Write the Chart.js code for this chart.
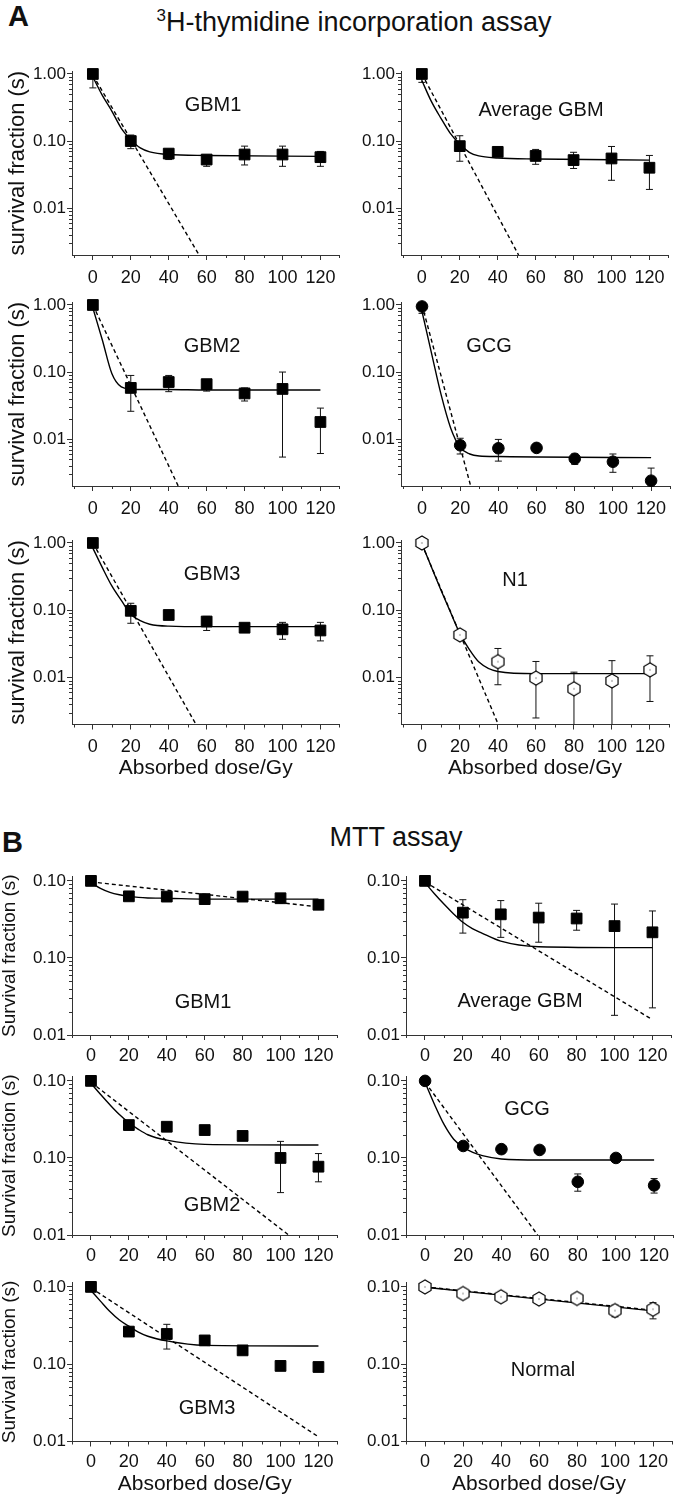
<!DOCTYPE html>
<html>
<head>
<meta charset="utf-8">
<script src="https://cdn.jsdelivr.net/npm/chart.js@4.4.1/dist/chart.umd.min.js"></script>
<style>
  body { margin: 0; background: #fff; width: 676px; height: 1495px; position: relative; overflow: hidden;
         font-family: "Liberation Sans", Arial, sans-serif; color: #111; }
  canvas { position: absolute; }
  .t { position: absolute; white-space: nowrap; transform: translate(-50%, -50%); }
</style>
</head>
<body>
<div class="t" style="left:8px;top:16px;font-weight:bold;font-size:29px;transform:translate(0,-50%)">A</div>
<div class="t" style="left:354px;top:22px;font-size:27px"><span style="font-size:17px;vertical-align:10px">3</span>H-thymidine incorporation assay</div>
<div class="t" style="left:2px;top:842px;font-weight:bold;font-size:29px;transform:translate(0,-50%)">B</div>
<div class="t" style="left:396px;top:837px;font-size:27px">MTT assay</div>

<script>
// doses (Gy) and axis ticks
const doses = [0, 20, 40, 60, 80, 100, 120];
const fitDose = [0, 5, 10, 15, 20, 25, 30, 40, 60, 120];
const doseTicks = [0, 20, 40, 60, 80, 100, 120];
const tickValues = [1, 0.1, 0.01];
const tickLabelsA = ['1.00', '0.10', '0.01'];
const tickLabelsB = ['0.10', '0.10', '0.01'];

// A: 3H-thymidine incorporation
const aGbm1Sf = [1.0, 0.10, 0.065, 0.053, 0.063, 0.063, 0.0575];
const aGbm1Lo = [0.62, 0.077, 0.053, 0.042, 0.044, 0.042, 0.042];
const aGbm1Hi = [null, 0.123, 0.075, null, 0.084, 0.084, 0.07];
const aGbm1Fit = [0.9, 0.48, 0.28, 0.155, 0.105, 0.079, 0.069, 0.063, 0.061, 0.059];
const aGbm1DashX = [0, 56], aGbm1DashY = [0.96, 0.002];

const aAvgSf = [1.0, 0.084, 0.069, 0.06, 0.052, 0.055, 0.04];
const aAvgLo = [0.75, 0.05, 0.063, 0.045, 0.039, 0.026, 0.019];
const aAvgHi = [null, 0.12, 0.08, 0.075, 0.068, 0.083, 0.061];
const aAvgFit = [0.8, 0.39, 0.22, 0.13, 0.09, 0.068, 0.06, 0.056, 0.054, 0.052];
const aAvgDashX = [0, 51], aAvgDashY = [1.0, 0.002];

const aGbm2Sf = [1.0, 0.058, 0.071, 0.066, 0.048, 0.056, 0.018];
const aGbm2Lo = [null, 0.026, 0.051, 0.052, 0.037, 0.0054, 0.0061];
const aGbm2Hi = [null, 0.089, 0.089, 0.073, 0.058, 0.1, 0.029];
const aGbm2Fit = [0.9, 0.3, 0.095, 0.06, 0.056, 0.055, 0.055, 0.055, 0.054, 0.054];
const aGbm2DashX = [0, 45], aGbm2DashY = [1.0, 0.002];

const aGcgSf = [0.95, 0.0081, 0.0073, 0.0074, 0.0051, 0.0046, 0.0024];
const aGcgLo = [0.75, 0.006, 0.0047, null, 0.0042, 0.0032, 0.002];
const aGcgHi = [null, 0.0103, 0.0099, null, 0.006, 0.006, 0.0037];
const aGcgFit = [0.8, 0.19, 0.046, 0.0147, 0.0075, 0.006, 0.0056, 0.0055, 0.0054, 0.0053];
const aGcgDashX = [0, 25.5], aGcgDashY = [1.0, 0.002];

const aGbm3Sf = [1.0, 0.098, 0.085, 0.068, 0.055, 0.052, 0.05];
const aGbm3Lo = [null, 0.064, null, 0.05, null, 0.037, 0.035];
const aGbm3Hi = [null, 0.127, null, 0.081, null, 0.066, 0.066];
const aGbm3Fit = [0.84, 0.43, 0.23, 0.14, 0.087, 0.07, 0.062, 0.058, 0.057, 0.057];
const aGbm3DashX = [0, 54.4], aGbm3DashY = [1.0, 0.002];

const aN1Sf = [1.0, 0.043, 0.0172, 0.0098, 0.0068, 0.0089, 0.013];
const aN1Lo = [null, null, 0.0078, 0.0025, 0.001, 0.001, 0.0044];
const aN1Hi = [null, null, 0.027, 0.0173, 0.012, 0.0178, 0.021];
const aN1Fit = [0.97, 0.44, 0.2, 0.094, 0.045, 0.026, 0.017, 0.0123, 0.0114, 0.0114];
const aN1DashX = [0, 40.2], aN1DashY = [0.96, 0.002];

// B: MTT assay
const bGbm1Sf = [1.0, 0.63, 0.625, 0.58, 0.625, 0.595, 0.49];
const bGbm1Lo = [null, null, null, null, null, null, null];
const bGbm1Hi = [null, null, null, null, null, null, null];
const bGbm1Fit = [0.95, 0.8, 0.71, 0.66, 0.63, 0.61, 0.6, 0.595, 0.58, 0.58];
const bGbm1DashX = [0, 120], bGbm1DashY = [0.97, 0.46];

const bAvgSf = [1.0, 0.387, 0.368, 0.334, 0.325, 0.259, 0.215];
const bAvgLo = [null, 0.21, 0.185, 0.16, 0.229, 0.018, 0.0225];
const bAvgHi = [null, 0.57, 0.555, 0.513, 0.414, 0.5, 0.407];
const bAvgFit = [0.95, 0.68, 0.5, 0.375, 0.29, 0.24, 0.21, 0.165, 0.14, 0.136];
const bAvgDashX = [0, 120], bAvgDashY = [0.97, 0.0158];

const bGbm2Sf = [1.0, 0.267, 0.254, 0.23, 0.193, 0.1, 0.077];
const bGbm2Lo = [null, null, null, null, null, 0.0355, 0.049];
const bGbm2Hi = [null, null, null, null, null, 0.164, 0.114];
const bGbm2Fit = [0.93, 0.67, 0.49, 0.366, 0.286, 0.235, 0.2, 0.17, 0.15, 0.147];
const bGbm2DashX = [0, 104.3], bGbm2DashY = [0.96, 0.01];

const bGcgSf = [1.0, 0.143, 0.13, 0.127, 0.049, 0.1, 0.044];
const bGcgLo = [null, null, null, null, 0.037, null, 0.035];
const bGcgHi = [null, null, null, null, 0.062, null, 0.054];
const bGcgFit = [0.95, 0.49, 0.27, 0.175, 0.137, 0.118, 0.107, 0.097, 0.094, 0.094];
const bGcgDashX = [0, 59], bGcgDashY = [0.96, 0.01];

const bGbm3Sf = [1.0, 0.264, 0.246, 0.203, 0.151, 0.095, 0.092];
const bGbm3Lo = [null, null, 0.157, null, null, null, null];
const bGbm3Hi = [null, null, 0.328, null, null, null, null];
const bGbm3Fit = [0.9, 0.655, 0.48, 0.373, 0.31, 0.26, 0.23, 0.2, 0.175, 0.172];
const bGbm3DashX = [0, 120], bGbm3DashY = [0.97, 0.0115];

const bNormSf = [1.0, 0.82, 0.745, 0.696, 0.71, 0.494, 0.514];
const bNormLo = [null, 0.75, 0.68, 0.63, 0.64, 0.41, 0.386];
const bNormHi = [null, 0.92, 0.82, 0.77, 0.8, 0.58, 0.625];
const bNormFitX = [0, 120], bNormFit = [0.99, 0.49];
const bNormDashX = [0, 120], bNormDashY = [1.0, 0.5];

Chart.defaults.font.family = '"Liberation Sans", Arial, sans-serif';
Chart.defaults.color = '#111';

const geom = {
  A: { rows: [[68, 255], [299, 486], [537, 724]], left: [72, 401], xmin: -11, ymin: 0.002, ymax: 1.1,
       labels: tickLabelsA, ytitle: 'survival fraction (s)', yfont: 22, ypad: 7, xH: 54.5, xpad: 7 },
  B: { rows: [[873, 1035], [1073, 1235], [1279, 1441]], left: [72, 406], xmin: -10, ymin: 0.01, ymax: 1.15,
       labels: tickLabelsB, ytitle: 'Survival fraction (s)', yfont: 19, ypad: 0.5, xH: 53.5, xpad: 5 }
};
const xmax = 130, pxPerGy = 1.9167;

// open hexagon marker
const hex = document.createElement('canvas');
hex.width = 18; hex.height = 18;
(function () {
  const c = hex.getContext('2d');
  c.beginPath();
  for (let k = 0; k < 6; k++) {
    const a = Math.PI / 2 + k * Math.PI / 3;
    c.lineTo(9 + 7 * Math.cos(a), 9 - 7 * Math.sin(a));
  }
  c.closePath();
  c.fillStyle = '#fff'; c.fill();
  c.strokeStyle = '#000'; c.lineWidth = 1.2; c.stroke();
  c.fillStyle = '#222'; c.fillRect(8.5, 8.5, 1, 1);
})();

const panels = [
  { sec: 'A', col: 0, row: 0, label: 'GBM1', lx: 213, ly: 104, sf: aGbm1Sf, lo: aGbm1Lo, hi: aGbm1Hi, fitX: fitDose, fitY: aGbm1Fit, dashX: aGbm1DashX, dashY: aGbm1DashY, mark: 'rect' },
  { sec: 'A', col: 1, row: 0, label: 'Average GBM', lx: 541, ly: 109, sf: aAvgSf, lo: aAvgLo, hi: aAvgHi, fitX: fitDose, fitY: aAvgFit, dashX: aAvgDashX, dashY: aAvgDashY, mark: 'rect' },
  { sec: 'A', col: 0, row: 1, label: 'GBM2', lx: 212, ly: 345, sf: aGbm2Sf, lo: aGbm2Lo, hi: aGbm2Hi, fitX: fitDose, fitY: aGbm2Fit, dashX: aGbm2DashX, dashY: aGbm2DashY, mark: 'rect' },
  { sec: 'A', col: 1, row: 1, label: 'GCG', lx: 489, ly: 345, sf: aGcgSf, lo: aGcgLo, hi: aGcgHi, fitX: fitDose, fitY: aGcgFit, dashX: aGcgDashX, dashY: aGcgDashY, mark: 'circle' },
  { sec: 'A', col: 0, row: 2, label: 'GBM3', lx: 212, ly: 573, sf: aGbm3Sf, lo: aGbm3Lo, hi: aGbm3Hi, fitX: fitDose, fitY: aGbm3Fit, dashX: aGbm3DashX, dashY: aGbm3DashY, mark: 'rect' },
  { sec: 'A', col: 1, row: 2, label: 'N1', lx: 515, ly: 579, sf: aN1Sf, lo: aN1Lo, hi: aN1Hi, fitX: fitDose, fitY: aN1Fit, dashX: aN1DashX, dashY: aN1DashY, mark: 'hex' },
  { sec: 'B', col: 0, row: 0, label: 'GBM1', lx: 203, ly: 1001, sf: bGbm1Sf, lo: bGbm1Lo, hi: bGbm1Hi, fitX: fitDose, fitY: bGbm1Fit, dashX: bGbm1DashX, dashY: bGbm1DashY, mark: 'rect' },
  { sec: 'B', col: 1, row: 0, label: 'Average GBM', lx: 520, ly: 1000, sf: bAvgSf, lo: bAvgLo, hi: bAvgHi, fitX: fitDose, fitY: bAvgFit, dashX: bAvgDashX, dashY: bAvgDashY, mark: 'rect' },
  { sec: 'B', col: 0, row: 1, label: 'GBM2', lx: 212, ly: 1204, sf: bGbm2Sf, lo: bGbm2Lo, hi: bGbm2Hi, fitX: fitDose, fitY: bGbm2Fit, dashX: bGbm2DashX, dashY: bGbm2DashY, mark: 'rect' },
  { sec: 'B', col: 1, row: 1, label: 'GCG', lx: 527, ly: 1108, sf: bGcgSf, lo: bGcgLo, hi: bGcgHi, fitX: fitDose, fitY: bGcgFit, dashX: bGcgDashX, dashY: bGcgDashY, mark: 'circle' },
  { sec: 'B', col: 0, row: 2, label: 'GBM3', lx: 207, ly: 1407, sf: bGbm3Sf, lo: bGbm3Lo, hi: bGbm3Hi, fitX: fitDose, fitY: bGbm3Fit, dashX: bGbm3DashX, dashY: bGbm3DashY, mark: 'rect' },
  { sec: 'B', col: 1, row: 2, label: 'Normal', lx: 543, ly: 1369, sf: bNormSf, lo: bNormLo, hi: bNormHi, fitX: bNormFitX, fitY: bNormFit, dashX: bNormDashX, dashY: bNormDashY, mark: 'hex' }
];

function pts(xs, ys) { return xs.map((x, i) => ({ x: x, y: ys[i] })); }

function makePanel(p) {
  const g = geom[p.sec];
  const [top, bottom] = g.rows[p.row];
  const areaLeft = g.left[p.col];
  const canvasLeft = p.col === 0 ? 0 : 338;
  const yW = areaLeft - canvasLeft;
  const areaW = (xmax - g.xmin) * pxPerGy;
  const lastRow = p.row === 2;
  const xH = lastRow ? g.xH : 32;
  const padTop = 8, padRight = 6, padBottom = 2;

  const cv = document.createElement('canvas');
  cv.width = Math.round(yW + areaW + padRight);
  cv.height = Math.round(padTop + (bottom - top) + xH + padBottom);
  cv.style.left = canvasLeft + 'px';
  cv.style.top = (top - padTop) + 'px';
  document.body.appendChild(cv);

  const lbl = document.createElement('div');
  lbl.className = 't';
  lbl.style.cssText = 'left:' + p.lx + 'px;top:' + p.ly + 'px;font-size:20px';
  lbl.textContent = p.label;
  document.body.appendChild(lbl);

  // error bars under the markers, minor ticks after everything
  const extras = {
    id: 'extras',
    beforeDatasetsDraw(chart) {
      const { ctx, chartArea: a, scales: { x, y } } = chart;
      ctx.save();
      ctx.strokeStyle = '#111';
      ctx.lineWidth = 1;
      doses.forEach((d, i) => {
        const px = x.getPixelForValue(d);
        const py = y.getPixelForValue(p.sf[i]);
        [p.lo[i], p.hi[i]].forEach(v => {
          if (v == null) return;
          let ey = y.getPixelForValue(v);
          const inside = ey >= a.top && ey <= a.bottom;
          ey = Math.min(Math.max(ey, a.top), a.bottom);
          ctx.beginPath();
          ctx.moveTo(px, py); ctx.lineTo(px, ey);
          if (inside) { ctx.moveTo(px - 3.5, ey); ctx.lineTo(px + 3.5, ey); }
          ctx.stroke();
        });
      });
      ctx.restore();
    },
    afterDraw(chart) {
      const { ctx, chartArea: a, scales: { x, y } } = chart;
      ctx.save();
      ctx.strokeStyle = '#333';
      ctx.lineWidth = 1;
      ctx.beginPath();
      for (let e = -3; e <= 0; e++) {
        for (let k = 2; k <= 9; k++) {
          const v = k * Math.pow(10, e);
          if (v <= g.ymin || v >= g.ymax) continue;
          const py = Math.round(y.getPixelForValue(v)) + 0.5;
          ctx.moveTo(a.left, py); ctx.lineTo(a.left - 3, py);
        }
      }
      for (let v = -10; v <= xmax; v += 20) {
        if (v < g.xmin) continue;
        const px = Math.round(x.getPixelForValue(v)) + 0.5;
        ctx.moveTo(px, a.bottom); ctx.lineTo(px, a.bottom + 3);
      }
      ctx.stroke();
      ctx.restore();
    }
  };

  const markDs = {
    data: pts(doses, p.sf),
    showLine: false,
    clip: false,
    backgroundColor: '#000',
    borderColor: '#000',
    borderWidth: 1
  };
  if (p.mark === 'rect') { markDs.pointStyle = 'rect'; markDs.pointRadius = 7.6; }
  else if (p.mark === 'circle') { markDs.pointStyle = 'circle'; markDs.pointRadius = 5.8; }
  else { markDs.pointStyle = hex; markDs.pointRadius = 7; }

  new Chart(cv, {
    type: 'scatter',
    data: {
      datasets: [
        markDs,
        { data: pts(p.fitX, p.fitY), showLine: true, pointRadius: 0, borderColor: '#000',
          borderWidth: 1.4, cubicInterpolationMode: 'monotone' },
        { data: pts(p.dashX, p.dashY), showLine: true, pointRadius: 0, borderColor: '#000',
          borderWidth: 1.4, borderDash: [4, 3] }
      ]
    },
    options: {
      responsive: false,
      animation: false,
      devicePixelRatio: 1,
      events: [],
      layout: { padding: { top: padTop, right: padRight, bottom: padBottom, left: 0 } },
      plugins: { legend: { display: false }, tooltip: { enabled: false } },
      scales: {
        x: {
          type: 'linear', min: g.xmin, max: xmax,
          afterBuildTicks: s => { s.ticks = doseTicks.map(v => ({ value: v })); },
          afterFit: s => { s.height = xH; },
          ticks: { font: { size: 18 }, color: '#111', padding: g.xpad, maxRotation: 0, autoSkip: false,
                   callback: v => String(v) },
          grid: { drawOnChartArea: false, drawTicks: true, tickLength: 5, color: '#333' },
          border: { display: true, color: '#333', width: 1 },
          title: { display: lastRow, text: 'Absorbed dose/Gy', color: '#111',
                   font: { size: 21, lineHeight: 1 }, padding: { top: 0, bottom: 0 } }
        },
        y: {
          type: 'logarithmic', min: g.ymin, max: g.ymax,
          afterBuildTicks: s => { s.ticks = tickValues.map(v => ({ value: v })); },
          afterFit: s => { s.width = yW; },
          ticks: { font: { size: 17 }, color: '#111', padding: 1, autoSkip: false,
                   callback: (v, i) => g.labels[i] },
          grid: { drawOnChartArea: false, drawTicks: true, tickLength: 5, color: '#333' },
          border: { display: true, color: '#333', width: 1 },
          title: { display: p.col === 0, text: g.ytitle, color: '#111',
                   font: { size: g.yfont, lineHeight: 1 }, padding: { top: g.ypad, bottom: 0 } }
        }
      }
    },
    plugins: [extras]
  });
}

panels.forEach(makePanel);
</script>
</body>
</html>
